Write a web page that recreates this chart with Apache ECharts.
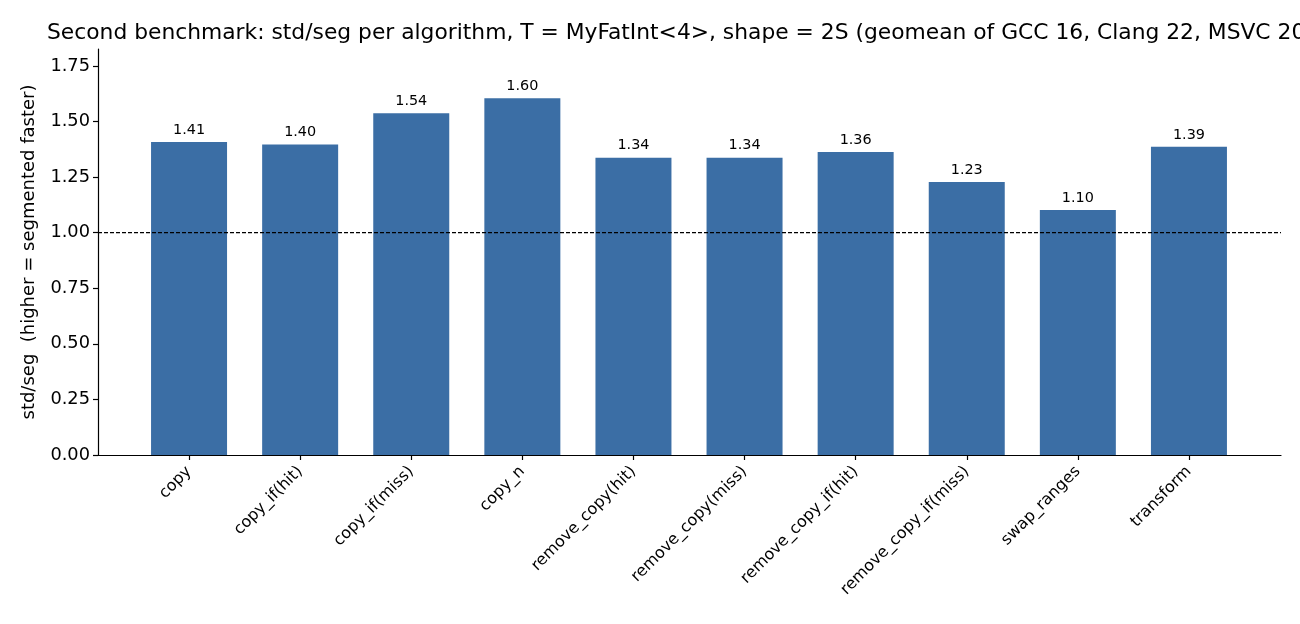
<!DOCTYPE html>
<html>
	<head>
		<meta charset="utf-8">
		<title></title>
		<style type="text/css">
			* {
				margin: 0;
				padding: 0;
			}

			html,
			body {
				width: 100%;
				height: 100%;
				background: #fff;
			}

			#chart {
				width: 1300px;
				height: 624px;
			}
		</style>
	</head>
	<body>
		<div id="chart"></div>
		<script src="https://cdn.jsdelivr.net/npm/echarts@6/dist/echarts.min.js"></script>
		<script>
			var algos = ['copy', 'copy_if(hit)', 'copy_if(miss)', 'copy_n', 'remove_copy(hit)', 'remove_copy(miss)',
				'remove_copy_if(hit)', 'remove_copy_if(miss)', 'swap_ranges', 'transform'
			]
			var ratios = [1.408, 1.396, 1.537, 1.604, 1.337, 1.337, 1.363, 1.228, 1.102, 1.386]
			var baseline = 1.0
			var yMax = 1.826

			var font = 'DejaVu Sans'

			window.onload = function() {
				var myChart = echarts.init(document.getElementById('chart'));
				var option = {
					animation: false,
					textStyle: {
						fontFamily: font
					},
					title: {
						text: 'Second benchmark: std/seg per algorithm, T = MyFatInt<4>, shape = 2S (geomean of GCC 16, Clang 22, MSVC 2022)',
						left: 42,
						top: 17,
						textStyle: {
							fontFamily: font,
							fontSize: 21.8,
							fontWeight: 'normal',
							color: '#000'
						}
					},
					// grid 0: full axes box (spines, y ticks, baseline); grid 1: bars inset like matplotlib margins
					grid: [{
						left: 98,
						right: 19,
						top: 49,
						bottom: 169
					}, {
						left: 133.5,
						right: 55.5,
						top: 49,
						bottom: 169
					}],
					xAxis: [{
						type: 'value',
						gridIndex: 0,
						min: 0,
						max: 1,
						axisLine: {
							show: true,
							lineStyle: {
								color: '#000',
								width: 1.2
							}
						},
						axisTick: {
							show: false
						},
						axisLabel: {
							show: false
						},
						splitLine: {
							show: false
						}
					}, {
						type: 'category',
						gridIndex: 1,
						data: algos,
						axisLine: {
							show: false
						},
						axisTick: {
							show: true,
							alignWithLabel: true,
							length: 5,
							lineStyle: {
								color: '#000',
								width: 1.2
							}
						},
						axisLabel: {
							interval: 0,
							rotate: 45,
							margin: 14,
							fontFamily: font,
							fontSize: 16,
							color: '#000'
						}
					}],
					yAxis: [{
						type: 'value',
						gridIndex: 0,
						min: 0,
						max: yMax,
						interval: 0.25,
						name: 'std/seg  (higher = segmented faster)',
						nameLocation: 'middle',
						nameGap: 60,
						nameTextStyle: {
							fontFamily: font,
							fontSize: 18,
							color: '#000'
						},
						axisLine: {
							show: true,
							lineStyle: {
								color: '#000',
								width: 1.2
							}
						},
						axisTick: {
							show: true,
							length: 5,
							lineStyle: {
								color: '#000',
								width: 1.2
							}
						},
						axisLabel: {
							margin: 8,
							showMaxLabel: false,
							fontFamily: font,
							fontSize: 17.8,
							color: '#000',
							formatter: function(v) {
								return v.toFixed(2)
							}
						},
						splitLine: {
							show: false
						}
					}, {
						type: 'value',
						gridIndex: 1,
						min: 0,
						max: yMax,
						show: false,
						splitLine: {
							show: false
						}
					}],
					series: [{
						type: 'bar',
						xAxisIndex: 1,
						yAxisIndex: 1,
						data: ratios,
						barWidth: 76,
						itemStyle: {
							color: '#3b6ea5'
						},
						label: {
							show: true,
							position: 'top',
							distance: 5,
							fontFamily: font,
							fontSize: 14.4,
							color: '#000',
							formatter: function(p) {
								return p.value.toFixed(2)
							}
						},
						z: 2
					}, {
						type: 'line',
						xAxisIndex: 0,
						yAxisIndex: 0,
						data: [
							[0, baseline],
							[1, baseline]
						],
						symbol: 'none',
						lineStyle: {
							color: '#000',
							width: 1.1,
							type: [4, 2]
						},
						z: 3
					}]
				};
				myChart.setOption(option);
			}
		</script>
	</body>
</html>
